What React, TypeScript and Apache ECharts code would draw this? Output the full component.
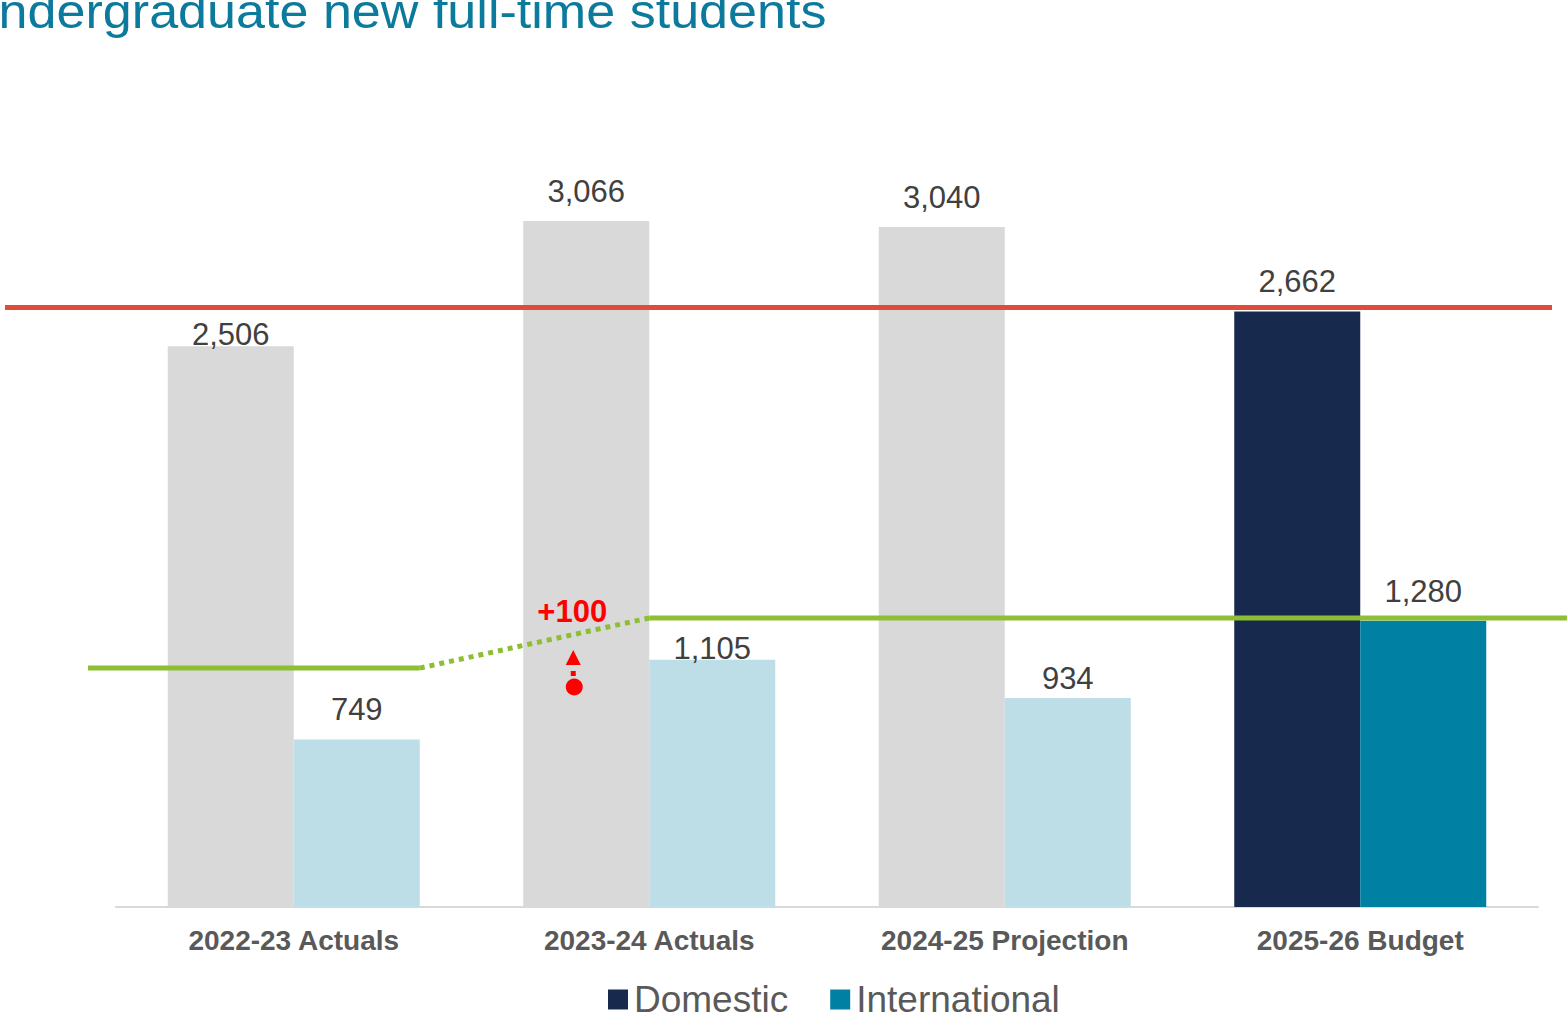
import React, { useEffect, useRef } from "react";
import * as echarts from "echarts";

const title = "Undergraduate new full-time students";
const categories = ["2022-23 Actuals", "2023-24 Actuals", "2024-25 Projection", "2025-26 Budget"];
const seriesNames = ["Domestic", "International"];
const domestic = [2506, 3066, 3040, 2662];
const international = [749, 1105, 934, 1280];
const domesticColors = ["#D9D9D9", "#D9D9D9", "#D9D9D9", "#172A4D"];
const internationalColors = ["#BDDEE6", "#BDDEE6", "#BDDEE6", "#0080A3"];
const domesticLabelDist = [-4, 14, 14, 14];
const internationalLabelDist = [14, -4, 4, 14];
const domesticTarget = 2680;
const internationalPrior = 1068;
const internationalTarget = 1292;
const deltaLabel = "+100";

const FONT = '"Liberation Sans", Arial, sans-serif';
const fmt = (v: number) => v.toLocaleString("en-US");

export default function App() {
  const ref = useRef<HTMLDivElement>(null);
  useEffect(() => {
    if (!ref.current) return;
    const chart = echarts.init(ref.current, undefined, { renderer: "svg" });
    const barWidth = 126;
    const mk = (vals: number[], colors: string[], dists: number[]) =>
      vals.map((v, i) => ({
        value: v,
        itemStyle: { color: colors[i] },
        label: { distance: dists[i] },
      }));
    const labelBase = {
      show: true,
      position: "top",
      fontFamily: FONT,
      fontSize: 31,
      color: "#404040",
      formatter: (p: any) => fmt(p.value),
    };
    chart.setOption({
      animation: false,
      textStyle: { fontFamily: FONT },
      grid: { left: 116, right: 29, top: 124, bottom: 112 },
      legend: {
        data: seriesNames,
        bottom: -4,
        left: 603,
        icon: "rect",
        itemWidth: 20,
        itemHeight: 20,
        itemGap: 42,
        textStyle: { fontSize: 37, color: "#595959", fontFamily: FONT, padding: [0, 0, 0, 1] },
      },
      xAxis: {
        type: "category",
        data: categories,
        axisLine: { lineStyle: { color: "#D9D9D9", width: 2 } },
        axisTick: { show: false },
        axisLabel: { fontSize: 28, fontWeight: "bold", color: "#595959", margin: 19, fontFamily: FONT },
      },
      yAxis: {
        type: "value",
        min: 0,
        max: 3500,
        show: false,
        splitLine: { show: false },
      },
      series: [
        {
          name: seriesNames[0],
          type: "bar",
          barWidth,
          barGap: "0%",
          color: "#172A4D",
          data: mk(domestic, domesticColors, domesticLabelDist),
          label: labelBase,
        },
        {
          name: seriesNames[1],
          type: "bar",
          barWidth,
          barGap: "0%",
          color: "#0080A3",
          data: mk(international, internationalColors, internationalLabelDist),
          label: labelBase,
        },
      ],
    });

    const yPx = (v: number) => chart.convertToPixel({ yAxisIndex: 0 }, v) as number;
    const xPx = (i: number) => chart.convertToPixel({ xAxisIndex: 0 }, i) as number;
    const yRed = yPx(domesticTarget);
    const yLow = yPx(internationalPrior);
    const yHigh = yPx(internationalTarget);
    const c0 = xPx(0);
    const c1 = xPx(1);
    const greenStyle = { stroke: "#8DBE33", lineWidth: 5, lineCap: "butt" };
    const ax = c1 - 76;

    chart.setOption({
      graphic: [
        {
          type: "text",
          x: -39,
          y: 12,
          scaleX: 1.085,
          z: 20,
          style: {
            text: title,
            font: `48px ${FONT}`,
            fill: "#0B7A9C",
            textVerticalAlign: "middle",
          },
        },
        {
          type: "line",
          z: 20,
          shape: { x1: 5, y1: yRed, x2: 1552, y2: yRed },
          style: { stroke: "#E04B3A", lineWidth: 5 },
        },
        {
          type: "line",
          z: 20,
          shape: { x1: 88, y1: yLow, x2: c0 + barWidth, y2: yLow },
          style: greenStyle,
        },
        {
          type: "line",
          z: 20,
          shape: { x1: c0 + barWidth, y1: yLow, x2: c1, y2: yHigh },
          style: { ...greenStyle, lineDash: [5, 5] },
        },
        {
          type: "line",
          z: 20,
          shape: { x1: c1, y1: yHigh, x2: 1567, y2: yHigh },
          style: greenStyle,
        },
        {
          type: "text",
          x: ax - 1,
          y: 611,
          z: 20,
          style: {
            text: deltaLabel,
            font: `bold 31px ${FONT}`,
            fill: "#FF0000",
            textAlign: "center",
            textVerticalAlign: "middle",
          },
        },
        {
          type: "polygon",
          z: 20,
          shape: { points: [[ax, 650], [ax + 7.5, 665], [ax - 7.5, 665]] },
          style: { fill: "#FF0000" },
        },
        {
          type: "rect",
          z: 20,
          shape: { x: ax - 2.5, y: 671, width: 5, height: 5 },
          style: { fill: "#FF0000" },
        },
        {
          type: "circle",
          z: 20,
          shape: { cx: ax + 1, cy: 687, r: 8.5 },
          style: { fill: "#FF0000" },
        },
      ],
    });
    return () => chart.dispose();
  }, []);
  return <div ref={ref} style={{ width: 1567, height: 1019, position: "absolute", left: 0, top: 0 }} />;
}
